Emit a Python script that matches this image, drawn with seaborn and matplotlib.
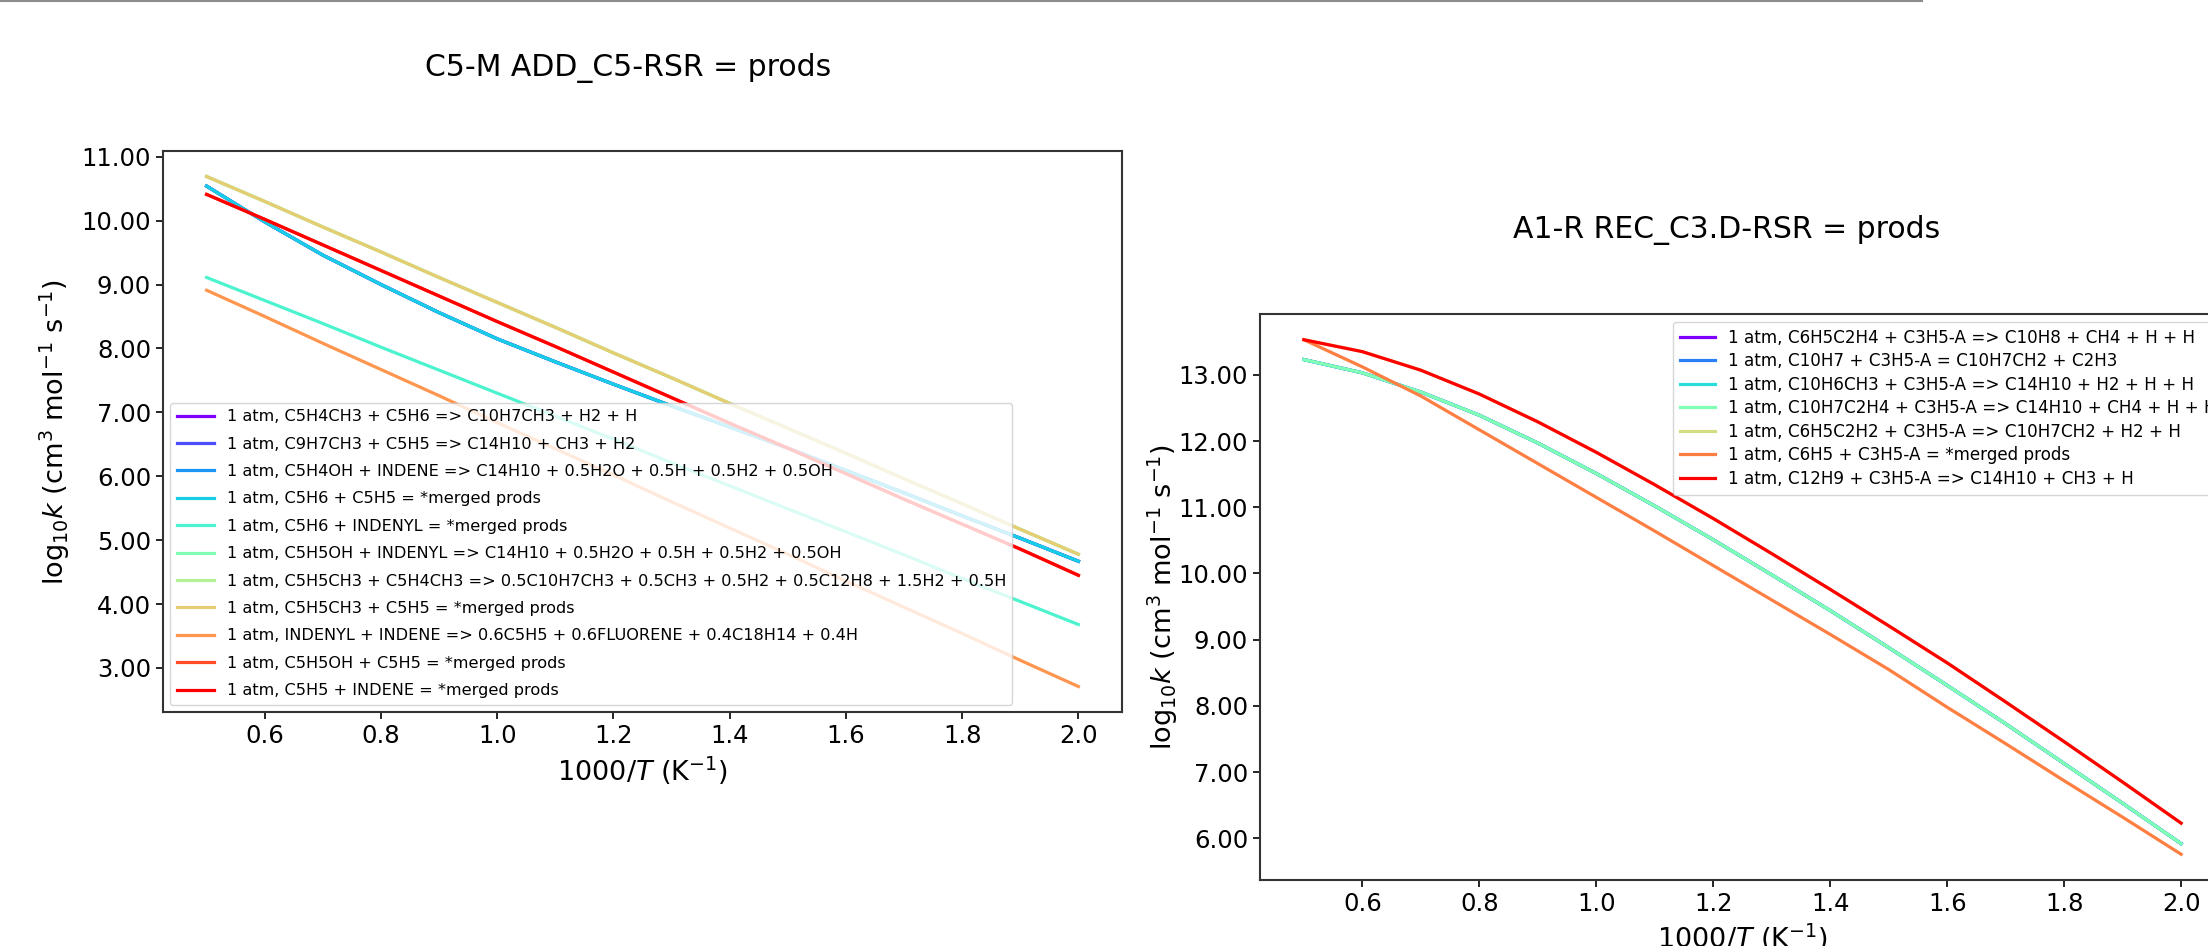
import numpy as np
import pandas as pd
import matplotlib
matplotlib.use("Agg")
import matplotlib.pyplot as plt
from matplotlib.lines import Line2D
from matplotlib.ticker import MultipleLocator, FormatStrFormatter
import seaborn as sns

# 1000/T grid shared by both panels
inv_t = [0.5, 0.6, 0.7, 0.8, 0.9, 1.0, 1.1, 1.2, 1.3, 1.4, 1.5, 1.6, 1.7, 1.8, 1.9, 2.0]

# Left panel: C5-M ADD_C5-RSR (log10 k values)
c5h6_c5h5 = [10.54, 9.98, 9.46, 9.00, 8.56, 8.15, 7.79, 7.44, 7.10, 6.77, 6.44, 6.09, 5.74, 5.38, 5.03, 4.67]
c5h6_indenyl = [9.11, 8.75, 8.39, 8.02, 7.66, 7.30, 6.94, 6.58, 6.21, 5.85, 5.49, 5.13, 4.77, 4.40, 4.04, 3.68]
c5h5ch3_c5h5 = [10.69, 10.30, 9.90, 9.51, 9.11, 8.72, 8.33, 7.93, 7.54, 7.14, 6.75, 6.36, 5.96, 5.57, 5.17, 4.78]
indenyl_indene = [8.91, 8.50, 8.08, 7.67, 7.26, 6.84, 6.43, 6.02, 5.60, 5.19, 4.78, 4.36, 3.95, 3.54, 3.12, 2.71]
c5h5_indene = [10.41, 10.02, 9.62, 9.22, 8.82, 8.42, 8.03, 7.63, 7.23, 6.83, 6.44, 6.04, 5.64, 5.25, 4.86, 4.45]

left_labels = [
    "1 atm, C5H4CH3 + C5H6 => C10H7CH3 + H2 + H",
    "1 atm, C9H7CH3 + C5H5 => C14H10 + CH3 + H2",
    "1 atm, C5H4OH + INDENE => C14H10 + 0.5H2O + 0.5H + 0.5H2 + 0.5OH",
    "1 atm, C5H6 + C5H5 = *merged prods",
    "1 atm, C5H6 + INDENYL = *merged prods",
    "1 atm, C5H5OH + INDENYL => C14H10 + 0.5H2O + 0.5H + 0.5H2 + 0.5OH",
    "1 atm, C5H5CH3 + C5H4CH3 => 0.5C10H7CH3 + 0.5CH3 + 0.5H2 + 0.5C12H8 + 1.5H2 + 0.5H",
    "1 atm, C5H5CH3 + C5H5 = *merged prods",
    "1 atm, INDENYL + INDENE => 0.6C5H5 + 0.6FLUORENE + 0.4C18H14 + 0.4H",
    "1 atm, C5H5OH + C5H5 = *merged prods",
    "1 atm, C5H5 + INDENE = *merged prods",
]
# several curves coincide and sit hidden under later ones
left_values = [c5h6_c5h5, c5h6_c5h5, c5h6_c5h5, c5h6_c5h5, c5h6_indenyl,
               c5h5ch3_c5h5, c5h5ch3_c5h5, c5h5ch3_c5h5, indenyl_indene,
               c5h5_indene, c5h5_indene]

# Right panel: A1-R REC_C3.D-RSR
c12h9_c3h5 = [13.53, 13.35, 13.07, 12.71, 12.29, 11.83, 11.34, 10.83, 10.30, 9.76, 9.21, 8.65, 8.06, 7.46, 6.85, 6.23]
c10h7c2h4_c3h5 = [13.23, 13.03, 12.74, 12.39, 11.97, 11.51, 11.02, 10.51, 9.98, 9.44, 8.88, 8.31, 7.73, 7.13, 6.53, 5.92]
c6h5_c3h5 = [13.53, 13.12, 12.68, 12.17, 11.66, 11.15, 10.64, 10.12, 9.60, 9.08, 8.55, 7.98, 7.43, 6.87, 6.32, 5.76]

right_labels = [
    "1 atm, C6H5C2H4 + C3H5-A => C10H8 + CH4 + H + H",
    "1 atm, C10H7 + C3H5-A = C10H7CH2 + C2H3",
    "1 atm, C10H6CH3 + C3H5-A => C14H10 + H2 + H + H",
    "1 atm, C10H7C2H4 + C3H5-A => C14H10 + CH4 + H + H",
    "1 atm, C6H5C2H2 + C3H5-A => C10H7CH2 + H2 + H",
    "1 atm, C6H5 + C3H5-A = *merged prods",
    "1 atm, C12H9 + C3H5-A => C14H10 + CH3 + H",
]
right_values = [c10h7c2h4_c3h5, c10h7c2h4_c3h5, c10h7c2h4_c3h5, c10h7c2h4_c3h5,
                c12h9_c3h5, c6h5_c3h5, c12h9_c3h5]

W, H = 2208, 946
YLABEL = r"log$_{10}$$k$ (cm$^3$ mol$^{-1}$ s$^{-1}$)"
XLABEL = r"1000/$T$ (K$^{-1}$)"


def draw_panel(ax, labels, values, legend_kw):
    colors = plt.cm.rainbow(np.linspace(0, 1, len(labels)))
    for label, vals, col in zip(labels, values, colors):
        df = pd.DataFrame({"inv_t": inv_t, "logk": vals})
        sns.lineplot(data=df, x="inv_t", y="logk", color=col, label=label,
                     linewidth=2.3, ax=ax)
    ax.legend(**legend_kw)
    ax.yaxis.set_major_locator(MultipleLocator(1))
    ax.yaxis.set_major_formatter(FormatStrFormatter("%.2f"))
    ax.xaxis.set_major_locator(MultipleLocator(0.2))
    ax.tick_params(labelsize=17.5, length=5, width=1.2)
    for sp in ax.spines.values():
        sp.set_linewidth(1.5)
        sp.set_color("#333333")
    ax.set_xlabel(XLABEL, fontsize=19.5)
    ax.set_ylabel(YLABEL, fontsize=19.5)


fig = plt.figure(figsize=(W / 100, H / 100), dpi=100)

ax_l = fig.add_axes([163 / W, 1 - 712 / H, 959 / W, 561 / H])
draw_panel(ax_l, left_labels, left_values,
           dict(loc="lower left", fontsize=11.6, labelspacing=0.77,
                handlelength=2.3, borderaxespad=0.45))
ax_l.yaxis.set_label_coords(-0.095, 0.5)
ax_l.xaxis.set_label_coords(0.5, -0.075)

ax_r = fig.add_axes([1260 / W, 1 - 880 / H, 965 / W, 566 / H])
draw_panel(ax_r, right_labels, right_values,
           dict(loc="upper left", bbox_to_anchor=(0.428, 0.986),
                borderaxespad=0, fontsize=12.1, labelspacing=0.33,
                handlelength=2.1))
ax_r.yaxis.set_label_coords(-0.083, 0.5)
ax_r.xaxis.set_label_coords(0.5, -0.074)

fig.text(628 / W, 1 - 68 / H, "C5-M ADD_C5-RSR = prods", fontsize=21.5,
         ha="center", va="center")
fig.text(1727 / W, 1 - 230 / H, "A1-R REC_C3.D-RSR = prods", fontsize=21.5,
         ha="center", va="center")

# notebook cell border at the top of the screenshot
fig.add_artist(Line2D([0, 1922 / W], [1 - 1.5 / H, 1 - 1.5 / H],
                      color="0.55", linewidth=1.5))

fig.savefig("out.png", dpi=100)
